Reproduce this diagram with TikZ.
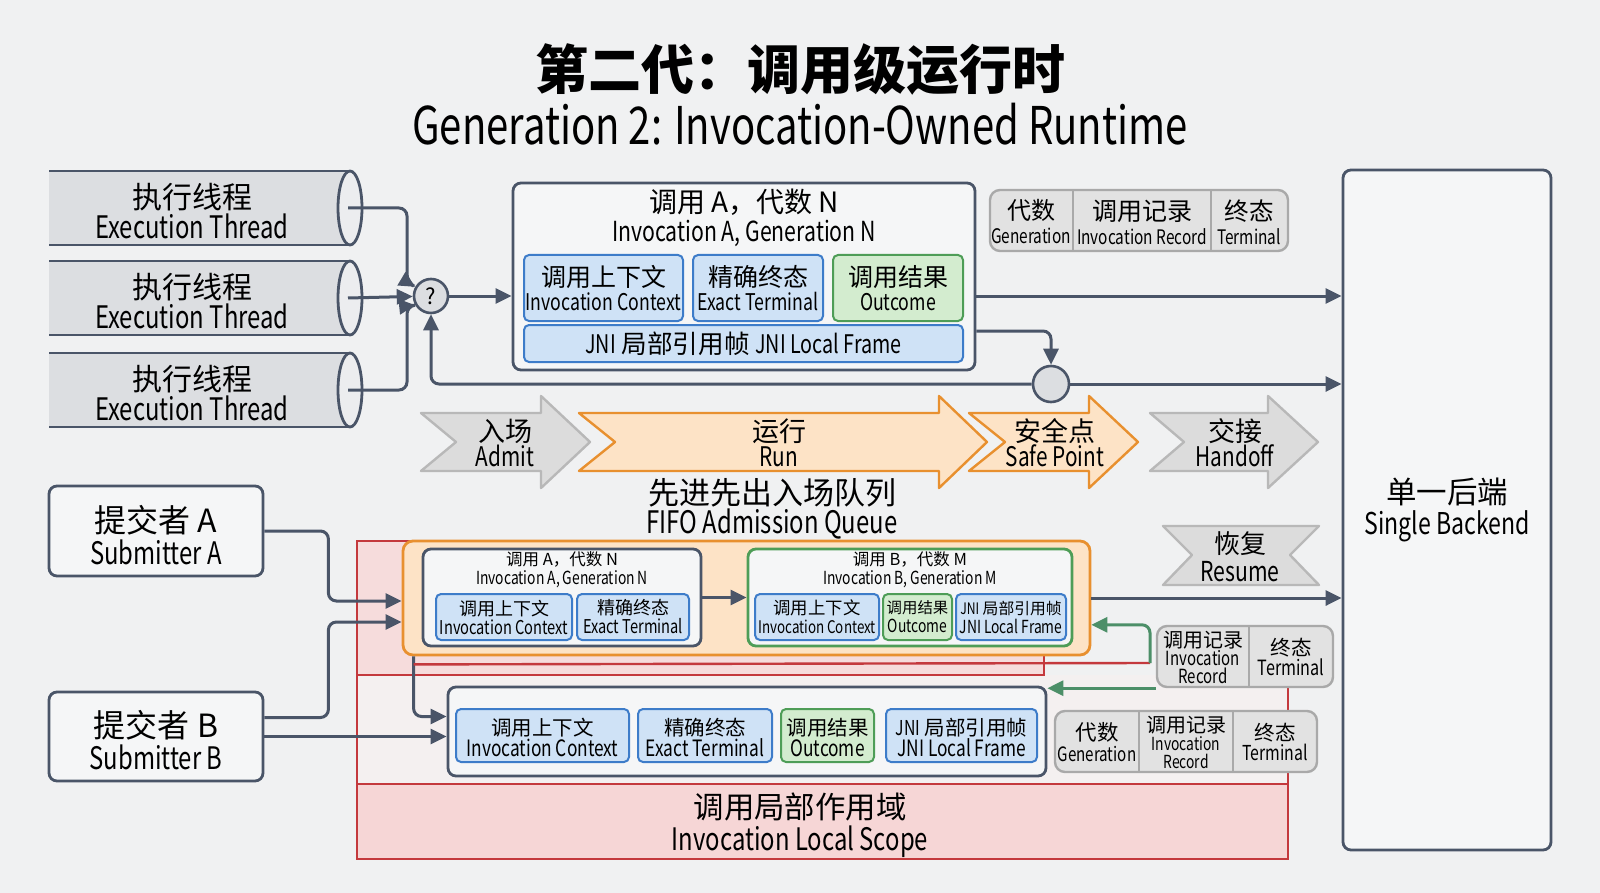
\documentclass[tikz,border=0pt]{standalone}
\usepackage{fontspec}
\setmainfont{Noto Sans CJK SC}
\newfontfamily\en[FakeStretch=0.77]{Noto Sans CJK SC}
\usepackage{tikz}
\usetikzlibrary{arrows.meta,positioning,calc,fit}

\definecolor{bgc}{HTML}{F0F1F2}
\definecolor{slate}{HTML}{4A5568}
\definecolor{cylf}{HTML}{DCDEE1}
\definecolor{cylm}{HTML}{ECEDEF}
\definecolor{boxf}{HTML}{F5F6F7}
\definecolor{bluef}{HTML}{CFE2F6}
\definecolor{blued}{HTML}{3D7CC9}
\definecolor{greenf}{HTML}{D3ECCF}
\definecolor{greend}{HTML}{4E9D57}
\definecolor{grayf}{HTML}{E2E2E2}
\definecolor{grayd}{HTML}{A9A9A9}
\definecolor{chevf}{HTML}{DCDCDC}
\definecolor{chevd}{HTML}{B8B8B8}
\definecolor{orangef}{HTML}{FDE3C6}
\definecolor{oranged}{HTML}{E8902F}
\definecolor{redd}{HTML}{C4393D}
\definecolor{pinkf}{HTML}{F6D6D6}
\definecolor{layerf}{HTML}{F6DCDC}
\definecolor{scopef}{HTML}{F4F0F0}
\definecolor{arrgreen}{HTML}{4C8F68}

\newcommand\fsz[1]{\fontsize{#1}{#1}\selectfont}
\newcommand\zh[1]{\fontsize{#1}{#1}\selectfont}
\newcommand\lat[1]{\en\fontsize{#1}{#1}\selectfont}

\begin{document}
\begin{tikzpicture}[
  x=0.5pt,y=-0.5pt,
  txt/.style={align=center, inner sep=0pt},
  box/.style={draw=slate, fill=boxf, line width=1.4pt, rounded corners=4pt, inner sep=0pt},
  cell/.style={draw=blued, fill=bluef, line width=1pt, rounded corners=2.5pt, inner sep=0pt},
  gcell/.style={cell, draw=greend, fill=greenf},
  qbox/.style={draw=oranged, fill=orangef, line width=1.4pt, rounded corners=5pt, inner sep=0pt},
  tbl/.style={draw=grayd, fill=grayf, line width=1.2pt, rounded corners=5pt, inner sep=0pt},
  tbldiv/.style={draw=grayd, line width=1.2pt},
  chevg/.style={draw=chevd, fill=chevf, line width=1.2pt, line join=round},
  chevo/.style={draw=oranged, fill=orangef, line width=1.2pt, line join=round},
  redline/.style={draw=redd, line width=1.2pt},
  arr/.style={draw=slate, line width=1.5pt, rounded corners=4pt,
    -{Triangle[length=8pt,width=7.5pt]}},
  garr/.style={arr, draw=arrgreen},
  dot/.style={circle, draw=slate, fill=cylf, line width=1.3pt, inner sep=0pt},
]

\fill[bgc] (0,0) rectangle (1600,893);
\useasboundingbox (0,0) rectangle (1600,893);

% Title
\node[font=\bfseries\zh{26.5}] (title) at (800,69) {第二代：调用级运行时};
\node[font=\lat{26}] (subtitle) at (800,124) {Generation 2: Invocation-Owned Runtime};

% Execution threads (cylinders)
\foreach \i/\yc in {1/208,2/298,3/390}{
  \shade[top color=cylf, middle color=cylm, bottom color=cylf] (49,\yc-37) rectangle (350,\yc+37);
  \draw[draw=slate, line width=1.4pt] (49,\yc-37) -- (350,\yc-37) (49,\yc+37) -- (350,\yc+37);
  \draw[draw=slate, line width=1.4pt, fill=cylm] (350,\yc) ellipse [x radius=12, y radius=37];
  \coordinate (thr\i) at (348,\yc);
  \node[txt, font=\fsz{15}] (thrl\i) at (192,\yc+3) {{\zh{15}执行线程}\\{\lat{15.5}Execution Thread}};
}

% Join point and invocation A
\node[dot, minimum size=17pt, font=\zh{11}] (q) at (431,296) {?};
\node[box, fit={(513,183) (975,370)}] (invA) {};
\node[txt, font=\fsz{14.5}] (invAt) at (744,218) {{\zh{14}调用 A，代数 N}\\{\lat{13.8}Invocation A, Generation N}};
\node[cell, fit={(524,255) (683,321)}] (ctxA) {};
\node[cell, fit={(693,255) (823,321)}] (extA) {};
\node[gcell, fit={(833,255) (963,321)}] (outA) {};
\node[cell, fit={(524,325) (963,362)}] (jniA) {};
\node[txt, font=\fsz{12.25}] (ctxAl) at (ctxA) {{\zh{12.5}调用上下文}\\{\lat{11.5}Invocation Context}};
\node[txt, font=\fsz{12.25}] (extAl) at (extA) {{\zh{12.5}精确终态}\\{\lat{11.5}Exact Terminal}};
\node[txt, font=\fsz{12.25}] (outAl) at (outA) {{\zh{12.5}调用结果}\\{\lat{11.5}Outcome}};
\node[txt, font=\zh{12.8}] (jniAl) at (jniA) {{\en JNI} 局部引用帧 {\en JNI Local Frame}};

% Record table (top)
\node[tbl, fit={(990,190) (1288,251)}] (tblA) {};
\draw[tbldiv] (1073,190) -- (1073,251) (1211,190) -- (1211,251);
\node[txt, font=\fsz{12}] (genA) at (1031,222) {{\zh{12}代数}\\{\lat{10}Generation}};
\node[txt, font=\fsz{12}] (recA) at (1142,222) {{\zh{12.5}调用记录}\\{\lat{10}Invocation Record}};
\node[txt, font=\fsz{12}] (termA) at (1249,222) {{\zh{12.25}终态}\\{\lat{10}Terminal}};

% Backend
\node[box, fit={(1343,170) (1551,850)}] (backend) {};
\node[txt, font=\fsz{15.5}] (backendl) at (backend) {{\zh{15.25}单一后端}\\{\lat{15}Single Backend}};

% Safe point
\node[dot, minimum size=18pt] (sp) at (1051,384) {};

% Thread and invocation connectors
\draw[arr] (thr2) -- (q);
\draw[arr] (thr1) -- ++(59,0) -- ++(0,74) -- (q.150);
\draw[arr] (thr3) -- ++(59,0) -- ++(0,-84) -- (q.210);
\draw[arr] (q) -- (invA.west |- q);
\draw[arr] (invA.east |- q) -- (backend.west |- q);
\draw[arr] ($(invA.east |- jniA.north)+(0,7)$) -| (sp.north);
\draw[arr] (sp.west) -| (q.south);
\draw[arr] (sp.east) -- (backend.west |- sp);

% Phases
\foreach \nm/\lx/\nx/\hx/\tx/\st in {adm/421/456/541/590/chevg, run/579/615/939/987/chevo, safe/969/1005/1089/1138/chevo, hand/1150/1184/1268/1318/chevg}
  \draw[\st] (\lx,413) -- (\hx,413) -- (\hx,396) -- (\tx,442) -- (\hx,488) -- (\hx,471) -- (\lx,471) -- (\nx,442) -- cycle;
\node[txt, font=\fsz{12.5}] (admit) at (505,443) {{\zh{13.5}入场}\\{\lat{13.5}Admit}};
\node[txt, font=\fsz{12.5}] (runl) at (779,443) {{\zh{13.5}运行}\\{\lat{13.5}Run}};
\node[txt, font=\fsz{12.5}] (safel) at (1055,443) {{\zh{13.5}安全点}\\{\lat{13.5}Safe Point}};
\node[txt, font=\fsz{12.5}] (handl) at (1235,443) {{\zh{13.5}交接}\\{\lat{13.5}Handoff}};

\node[txt, font=\fsz{14.5}] (fifo) at (772,509) {{\zh{15.5}先进先出入场队列}\\{\lat{15.5}FIFO Admission Queue}};

% Resume banner
\draw[chevg] (1163,526) -- (1319,526) -- (1290,555) -- (1319,585) -- (1163,585) -- (1192,555) -- cycle;
\node[txt, font=\fsz{14}] (resume) at (1240,557) {{\zh{13}恢复}\\{\lat{13.75}Resume}};

% Invocation local scope
\fill[scopef] (357,675) rectangle (1288,859);
\fill[pinkf] (357,784) rectangle (1288,859);
\draw[redline] (357,784) -- (1288,784);
\draw[redline] (1288,687) -- (1288,859) -- (357,859) -- (357,541);
\draw[redline, fill=layerf] (357,541) rectangle (1044,675);
\node[txt, font=\fsz{16}] (scope) at (800,825) {{\zh{15.2}调用局部作用域}\\{\lat{15.5}Invocation Local Scope}};

% FIFO admission queue
\node[qbox, fit={(403,541) (1090,655)}] (queue) {};
\node[box, fit={(423,549) (701,646)}] (invAq) {};
\node[txt, font=\fsz{9.5}] (invAqt) at (562,570) {{\zh{8.25}调用 A，代数 N}\\{\lat{9}Invocation A, Generation N}};
\node[cell, fit={(436,594) (572,640)}] (ctxAq) {};
\node[cell, fit={(577,594) (689,640)}] (extAq) {};
\node[txt, font=\fsz{9.5}] (ctxAql) at (ctxAq) {{\zh{9}调用上下文}\\{\lat{9.5}Invocation Context}};
\node[txt, font=\fsz{9.5}] (extAql) at (extAq) {{\zh{9}精确终态}\\{\lat{9.5}Exact Terminal}};
\node[box, draw=greend, fit={(748,549) (1072,646)}] (invBq) {};
\node[txt, font=\fsz{9.5}] (invBqt) at (910,570) {{\zh{8.25}调用 B，代数 M}\\{\lat{9}Invocation B, Generation M}};
\node[cell, fit={(755,594) (879,640)}] (ctxBq) {};
\node[gcell, fit={(883,594) (952,640)}] (outBq) {};
\node[cell, fit={(956,594) (1066,640)}] (jniBq) {};
\node[txt, font=\fsz{9.5}] (ctxBql) at (ctxBq) {{\zh{8.7}调用上下文}\\{\lat{8.7}Invocation Context}};
\node[txt, font=\fsz{9.5}] (outBql) at (outBq) {{\zh{7.7}调用结果}\\{\lat{9}Outcome}};
\node[txt, font=\fsz{9.5}] (jniBql) at (jniBq) {{\zh{7.9}{\en JNI} 局部引用帧}\\{\lat{9}JNI Local Frame}};
\draw[arr] (invAq) -- (invBq);
\draw[arr] (queue.east) -- (backend.west |- queue.east);

% Submitters
\node[box, fit={(49,486) (263,576)}] (subA) {};
\node[box, fit={(49,692) (263,781)}] (subB) {};
\node[txt, font=\fsz{16}] (subAl) at ($(subA)+(0,4)$) {{\zh{16}提交者 A}\\{\lat{15.5}Submitter A}};
\node[txt, font=\fsz{16}] (subBl) at ($(subB)+(0,4)$) {{\zh{16}提交者 B}\\{\lat{15.5}Submitter B}};

% Bottom invocation
\node[box, fit={(448,687) (1046,776)}] (botbox) {};
\node[cell, fit={(456,709) (629,762)}] (ctxC) {};
\node[cell, fit={(638,709) (772,762)}] (extC) {};
\node[gcell, fit={(781,709) (874,762)}] (outC) {};
\node[cell, fit={(886,709) (1037,762)}] (jniC) {};
\node[txt, font=\fsz{10.5}] (ctxCl) at ($(ctxC)+(0,2)$) {{\zh{10.25}调用上下文}\\{\lat{11.25}Invocation Context}};
\node[txt, font=\fsz{10.5}] (extCl) at ($(extC)+(0,2)$) {{\zh{10.25}精确终态}\\{\lat{11.25}Exact Terminal}};
\node[txt, font=\fsz{10.5}] (outCl) at ($(outC)+(0,2)$) {{\zh{10.25}调用结果}\\{\lat{11.25}Outcome}};
\node[txt, font=\fsz{10.5}] (jniCl) at ($(jniC)+(0,2)$) {{\zh{10.25}{\en JNI} 局部引用帧}\\{\lat{11.25}JNI Local Frame}};

% Submitter connectors
\draw[arr] (subA.east) -- ++(64,0) |- ($(queue.west)+(0,3)$);
\draw[arr] ($(subB.east)+(0,-19)$) -- ++(64,0) |- ($(queue.west)+(0,24)$);
\draw[arr] (subB.east) -- (botbox.west |- subB.east);
\draw[arr] ($(queue.south west)+(12,0)$) |- ($(botbox.west)+(0,-15)$);

% Record tables (resume side)
\node[tbl, fit={(1157,626) (1333,687)}] (tblB) {};
\draw[tbldiv] (1249,626) -- (1249,687);
\node[txt, font=\fsz{9}] (recB) at (1203,657) {{\zh{10}调用记录}\\{\lat{9.75}Invocation}\\{\lat{9.75}Record}};
\node[txt, font=\fsz{10}] (termB) at (1291,657) {{\zh{10.25}终态}\\{\lat{10.5}Terminal}};

\node[tbl, fit={(1055,711) (1317,772)}] (tblC) {};
\draw[tbldiv] (1139,711) -- (1139,772) (1233,711) -- (1233,772);
\node[txt, font=\fsz{10.5}] (genC) at (1097,742) {{\zh{10.75}代数}\\{\lat{9.85}Generation}};
\node[txt, font=\fsz{9}] (recC) at (1186,742) {{\zh{10}调用记录}\\{\lat{9}Invocation}\\{\lat{9}Record}};
\node[txt, font=\fsz{10}] (termC) at (1275,742) {{\zh{10.25}终态}\\{\lat{10.3}Terminal}};

% Return paths
\coordinate (gA) at (1150,663);
\draw[redline] ($(queue.south west)+(12,8)$) -- (gA);
\draw[garr] (gA) |- (queue.east |- tblB.north);
\draw[garr] (tblB.south west) -- (tblB.south west -| botbox.east);

\end{tikzpicture}
\end{document}
